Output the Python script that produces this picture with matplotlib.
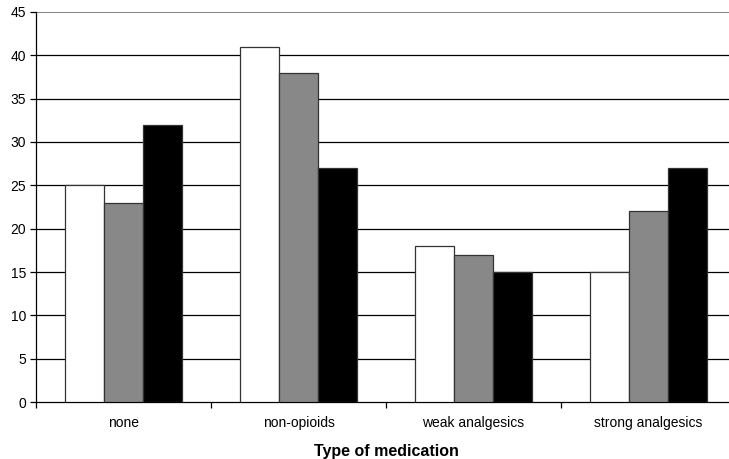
import numpy as np
import matplotlib.pyplot as plt

plt.rcParams['font.family'] = ['Liberation Sans', 'DejaVu Sans']

categories = ['none', 'non-opioids', 'weak analgesics', 'strong analgesics']
series_a = [25, 41, 18, 15]
series_b = [23, 38, 17, 22]
series_c = [32, 27, 15, 27]
yticks = [0, 5, 10, 15, 20, 25, 30, 35, 40, 45]

fig = plt.figure(figsize=(7.29, 4.59), dpi=100)
ax = fig.add_axes([36 / 729, 57 / 459, 700 / 729, 390 / 459])

x = np.arange(len(categories)) + 0.5
w = 0.224
for j, (vals, col) in enumerate([(series_a, 'white'), (series_b, '#888888'), (series_c, 'black')]):
    ax.bar(x + (j - 1) * w, vals, width=w, color=col, edgecolor='#333333', linewidth=0.9, zorder=3)

ax.set_xlim(0, 4)
ax.set_ylim(0, 45)
ax.set_yticks(yticks)
for v in yticks[1:]:
    ax.axhline(v, color='black' if v < 45 else '#777777', linewidth=0.9 if v < 45 else 1.3, zorder=1)

ax.set_xticks(np.arange(5))
ax.set_xticklabels([])
ax.set_xticks(x, minor=True)
ax.set_xticklabels(categories, minor=True)
ax.tick_params(axis='x', which='minor', length=0, pad=10, labelsize=10)
ax.tick_params(axis='x', which='major', length=4, width=0.9, direction='out')
ax.tick_params(axis='y', length=4, width=0.9, direction='out', labelsize=10, pad=3)

for s in ['top', 'right']:
    ax.spines[s].set_visible(False)
ax.spines['left'].set_linewidth(0.9)
ax.spines['bottom'].set_linewidth(0.9)

ax.set_xlabel('Type of medication', fontsize=11.5, fontweight='bold', labelpad=10)

fig.savefig('out.png', dpi=100)
